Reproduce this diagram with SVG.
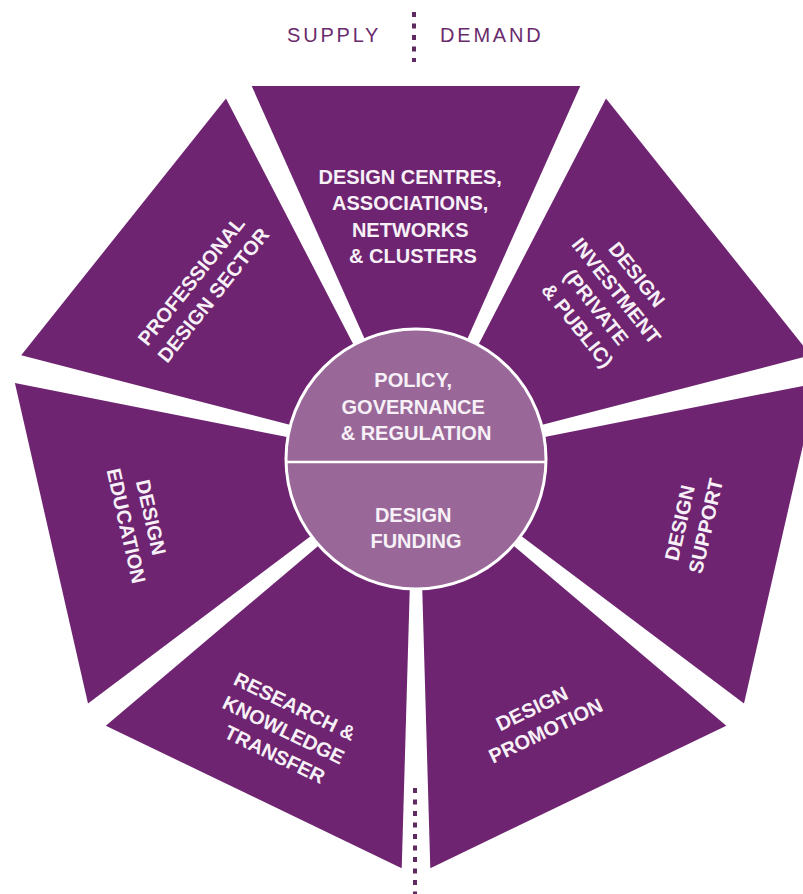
<svg xmlns="http://www.w3.org/2000/svg" width="803" height="894" viewBox="0 0 803 894">
<style>
.seg{fill:#6e2470;}
.lbl{font-family:"Liberation Sans",Arial,sans-serif;font-weight:bold;font-size:20px;fill:#f7f0f7;text-anchor:middle;}
.hub{fill:#996899;stroke:#ffffff;stroke-width:3;}
.hubline{stroke:#ffffff;stroke-width:2.5;}
.side{font-family:"Liberation Sans",Arial,sans-serif;font-size:20px;fill:#6a2b6c;letter-spacing:2.8px;}
.dots{stroke:#5e2a60;stroke-width:4;stroke-dasharray:5 6.5;fill:none;}
</style>
<rect width="803" height="894" fill="#ffffff"/>

<g id="supply-demand">
  <text class="side" x="287" y="42">SUPPLY</text>
  <text class="side" x="440" y="42">DEMAND</text>
</g>

<g id="connectors">
  <line class="dots" x1="414" y1="12" x2="414" y2="62"/>
  <line class="dots" x1="415" y1="788" x2="415" y2="894"/>
</g>

<g id="segments">
  <g id="seg-centres">
    <polygon class="seg" points="373.4,358.4 251.7,86 580.3,86 458.6,358.4"/>
    <text class="lbl" transform="translate(413,216)">
      <tspan x="0" y="-32.5">DESIGN CENTRES,</tspan>
      <tspan x="0" y="-6">ASSOCIATIONS,</tspan>
      <tspan x="0" y="20.5">NETWORKS</tspan>
      <tspan x="0" y="47">&amp; CLUSTERS</tspan>
    </text>
  </g>
  <g id="seg-investment">
    <polygon class="seg" points="468.8,363.4 606,98.4 810.8,355.3 522,430"/>
    <text class="lbl" transform="translate(608,301) rotate(51.43)">
      <tspan x="0" y="-32">DESIGN</tspan>
      <tspan x="0" y="-6">INVESTMENT</tspan>
      <tspan x="0" y="20">(PRIVATE</tspan>
      <tspan x="0" y="46">&amp; PUBLIC)</tspan>
    </text>
  </g>
  <g id="seg-support">
    <polygon class="seg" points="524.5,441 817.1,383.1 744,703.4 505.5,524.2"/>
    <text class="lbl" transform="translate(693,523) rotate(-77.14)">
      <tspan x="0" y="-6">DESIGN</tspan>
      <tspan x="0" y="20">SUPPORT</tspan>
    </text>
  </g>
  <g id="seg-promotion">
    <polygon class="seg" points="498.5,533 726.3,725.7 430.3,868.2 421.7,570"/>
    <text class="lbl" transform="translate(540,719) rotate(-25.71)">
      <tspan x="0" y="-6">DESIGN</tspan>
      <tspan x="0" y="20">PROMOTION</tspan>
    </text>
  </g>
  <g id="seg-research">
    <polygon class="seg" points="410.3,570 401.7,868.2 105.8,725.7 333.5,533"/>
    <text class="lbl" transform="translate(286,731) rotate(25.71)">
      <tspan x="0" y="-19">RESEARCH &amp;</tspan>
      <tspan x="0" y="7">KNOWLEDGE</tspan>
      <tspan x="0" y="33">TRANSFER</tspan>
    </text>
  </g>
  <g id="seg-education">
    <polygon class="seg" points="326.5,524.2 88,703.4 14.9,383.1 307.5,441"/>
    <text class="lbl" transform="translate(139,523) rotate(77.14)">
      <tspan x="0" y="-6">DESIGN</tspan>
      <tspan x="0" y="20">EDUCATION</tspan>
    </text>
  </g>
  <g id="seg-professional">
    <polygon class="seg" points="310,430 21.2,355.3 226,98.4 363.2,363.4"/>
    <text class="lbl" transform="translate(203,287) rotate(-51.43)">
      <tspan x="0" y="-6">PROFESSIONAL</tspan>
      <tspan x="0" y="20">DESIGN SECTOR</tspan>
    </text>
  </g>
</g>

<g id="hub">
  <circle class="hub" cx="416" cy="459" r="130"/>
  <line class="hubline" x1="286" y1="462" x2="546" y2="462"/>
  <g id="hub-policy">
    <text class="lbl">
      <tspan x="416" y="387">POLICY,</tspan>
      <tspan x="416" y="413.5">GOVERNANCE</tspan>
      <tspan x="416" y="440">&amp; REGULATION</tspan>
    </text>
  </g>
  <g id="hub-funding">
    <text class="lbl">
      <tspan x="416" y="521.5">DESIGN</tspan>
      <tspan x="416" y="547.5">FUNDING</tspan>
    </text>
  </g>
</g>
</svg>
